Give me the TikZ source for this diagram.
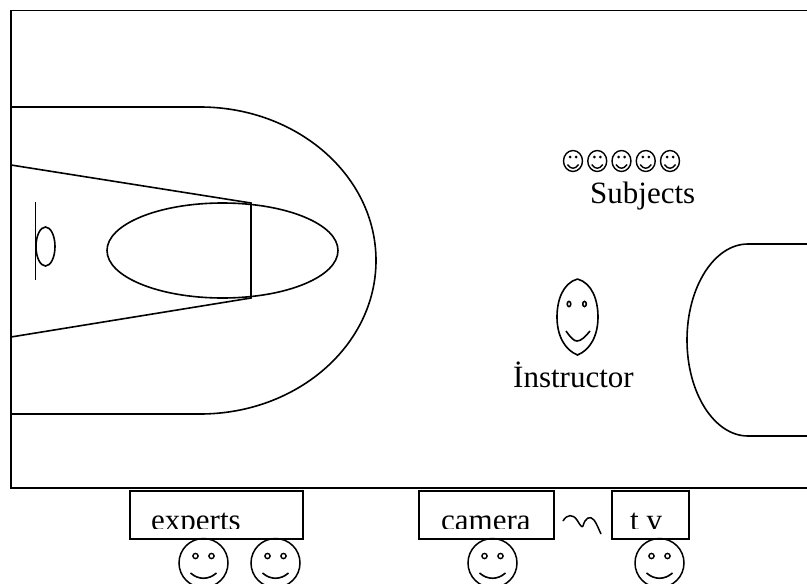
\documentclass[tikz,border=0pt]{standalone}
\usepackage{fontspec}
\setmainfont{Liberation Serif}
\usetikzlibrary{positioning}
\tikzset{
  court/.style={line width=1.6pt},
  panel/.style={draw,line width=1.6pt,inner sep=0pt,minimum height=48pt},
  caption/.style={font=\fontsize{31}{36}\selectfont,inner sep=0pt,anchor=base west},
  seatface/.pic={
    \draw[line width=1.5pt] (0,0) circle[radius=24.5];
    \draw[line width=1.4pt] (-8,-7) circle[radius=2.6] (8,-7) circle[radius=2.6];
    \draw[line width=1.6pt] (-13,10) .. controls (-5,17) and (5,17) .. (13,10);
  },
  subjectface/.pic={
    \draw[line width=1.4pt] (0,0) ellipse[x radius=9.5,y radius=10.5];
    \fill (-3,-4) circle[radius=1.5] (3,-4) circle[radius=1.5];
    \draw[line width=1.4pt] (-5.5,3.5) .. controls (-2.5,8.5) and (2.5,8.5) .. (5.5,3.5);
  }
}

\begin{document}
\begin{tikzpicture}[x=1pt,y=-1pt]
  \useasboundingbox (0,0) rectangle (807,584);
  \clip (0,0) rectangle (807,584);

  % court outline
  \draw[court] (11,10.5) rectangle (830,488);

  % left key
  \draw[court] (11,107) -- (200,107)
    arc[start angle=-90,end angle=90,x radius=176,y radius=153.5] -- (11,414);
  \draw[court] (11,165) -- (251,203) -- (251,298) -- (11,337);
  \draw[court] (222.5,250.5) ellipse[x radius=115.5,y radius=47.5];

  % basket
  \draw[court] (35.5,202) -- (35.5,280);
  \draw[court] (45.5,246.5) ellipse[x radius=9.5,y radius=19.5];

  % right key
  \draw[court] (830,244) -- (748,244)
    arc[start angle=-90,end angle=-270,x radius=61,y radius=96] -- (830,436);

  % subjects
  \foreach \i in {0,...,4}
    \pic at ({573+24.25*\i},161) {subjectface};
  \node[caption] (subjects) at (590,203) {Subjects};

  % instructor
  \draw[line width=1.6pt] (577.5,279) .. controls (592,283) and (598,300) .. (598,317)
    .. controls (598,336) and (590,350) .. (577.5,355)
    .. controls (565,350) and (557,336) .. (557,317)
    .. controls (557,300) and (563,283) .. (577.5,279);
  \draw[line width=1.6pt] (569,304) ellipse[x radius=1.8,y radius=2.6]
    (584.5,304) ellipse[x radius=1.8,y radius=2.6];
  \draw[line width=1.6pt] (566,331) .. controls (571,338) and (574,341) .. (577,341)
    .. controls (581,341) and (585,337) .. (590,331);
  \node[caption] (instructor) at (513,387) {İnstructor};

  % seats below the court
  \node[panel,minimum width=173pt] (experts) at (216.5,515) {};
  \node[panel,minimum width=135pt] (camera) at (486.5,515) {};
  \node[panel,minimum width=77pt] (tv) at (650.5,515) {};
  \begin{scope}
    \clip (130,491) rectangle (689,528);
    \node[caption] (expertslabel) at (151,530) {experts};
    \node[caption] (cameralabel) at (441,530) {camera};
    \node[caption] (tvlabel) at (630,530) {t v};
  \end{scope}

  % cable from camera to tv
  \draw[line width=1.5pt] (563,521) .. controls (567,514) and (573,514) .. (577,520)
    .. controls (580,525) and (582,528) .. (583,526)
    .. controls (585,518) and (590,515) .. (594,520)
    .. controls (597,524) and (599,530) .. (601,534);

  \pic at (203.5,563) {seatface};
  \pic at (275.5,563) {seatface};
  \pic at (492.5,563) {seatface};
  \pic at (659.5,563) {seatface};
\end{tikzpicture}
\end{document}
